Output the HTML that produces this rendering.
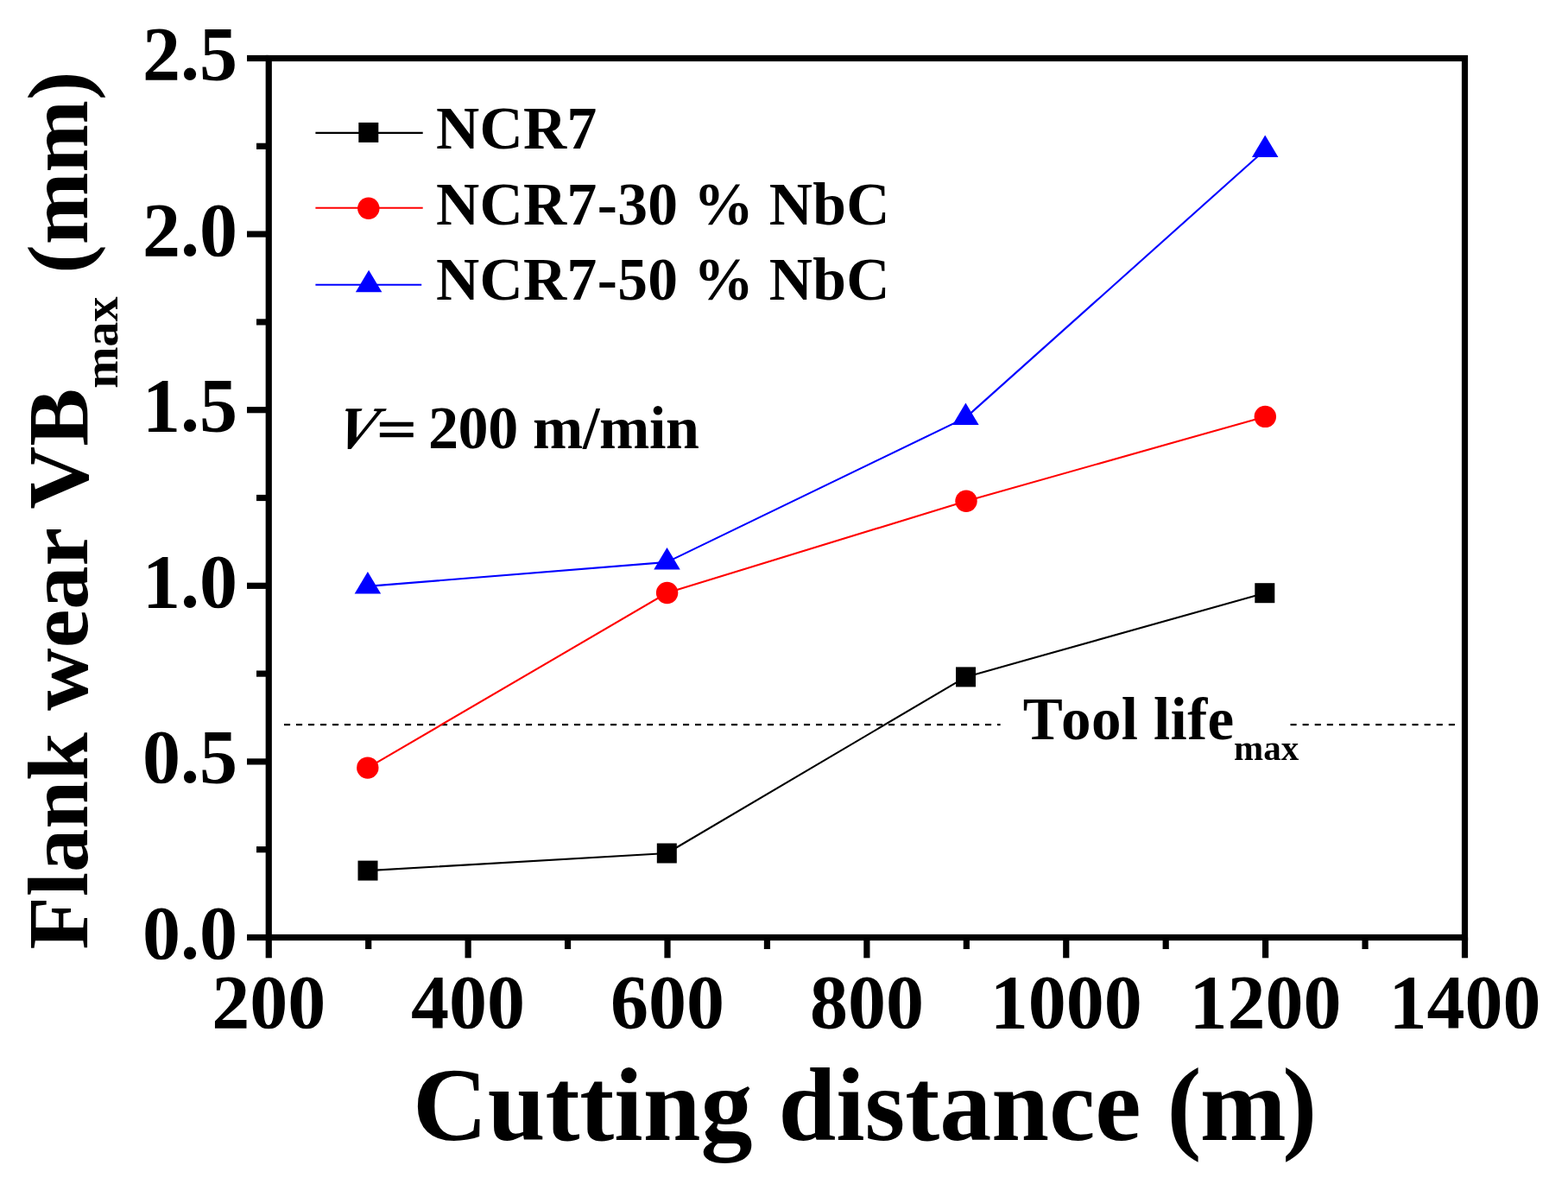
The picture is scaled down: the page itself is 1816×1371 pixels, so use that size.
<!DOCTYPE html><html><head><meta charset="utf-8"><style>html,body{margin:0;padding:0;background:#fff;}svg{display:block;}text{font-family:"Liberation Serif","Times New Roman",serif;font-weight:bold;fill:#000;}</style></head><body>
<svg width="1816" height="1371" viewBox="0 0 1816 1371">
<rect width="1816" height="1371" fill="#fff"/>
<line x1="329" y1="839.2" x2="1158.6" y2="839.2" stroke="#000" stroke-width="2.2" stroke-dasharray="7.1 6.9"/>
<line x1="1494.5" y1="839.2" x2="1685" y2="839.2" stroke="#000" stroke-width="2.2" stroke-dasharray="7.1 7.0"/>
<line x1="286.00" y1="1085.50" x2="311.25" y2="1085.50" stroke="#000" stroke-width="7.2"/>
<line x1="297.00" y1="983.70" x2="311.25" y2="983.70" stroke="#000" stroke-width="7.2"/>
<line x1="286.00" y1="881.90" x2="311.25" y2="881.90" stroke="#000" stroke-width="7.2"/>
<line x1="297.00" y1="780.10" x2="311.25" y2="780.10" stroke="#000" stroke-width="7.2"/>
<line x1="286.00" y1="678.30" x2="311.25" y2="678.30" stroke="#000" stroke-width="7.2"/>
<line x1="297.00" y1="576.50" x2="311.25" y2="576.50" stroke="#000" stroke-width="7.2"/>
<line x1="286.00" y1="474.70" x2="311.25" y2="474.70" stroke="#000" stroke-width="7.2"/>
<line x1="297.00" y1="372.90" x2="311.25" y2="372.90" stroke="#000" stroke-width="7.2"/>
<line x1="286.00" y1="271.10" x2="311.25" y2="271.10" stroke="#000" stroke-width="7.2"/>
<line x1="297.00" y1="169.30" x2="311.25" y2="169.30" stroke="#000" stroke-width="7.2"/>
<line x1="286.00" y1="67.50" x2="311.25" y2="67.50" stroke="#000" stroke-width="7.2"/>
<line x1="311.25" y1="1085.50" x2="311.25" y2="1109.30" stroke="#000" stroke-width="7.2"/>
<line x1="426.69" y1="1085.50" x2="426.69" y2="1099.00" stroke="#000" stroke-width="7.2"/>
<line x1="542.12" y1="1085.50" x2="542.12" y2="1109.30" stroke="#000" stroke-width="7.2"/>
<line x1="657.56" y1="1085.50" x2="657.56" y2="1099.00" stroke="#000" stroke-width="7.2"/>
<line x1="773.00" y1="1085.50" x2="773.00" y2="1109.30" stroke="#000" stroke-width="7.2"/>
<line x1="888.44" y1="1085.50" x2="888.44" y2="1099.00" stroke="#000" stroke-width="7.2"/>
<line x1="1003.88" y1="1085.50" x2="1003.88" y2="1109.30" stroke="#000" stroke-width="7.2"/>
<line x1="1119.31" y1="1085.50" x2="1119.31" y2="1099.00" stroke="#000" stroke-width="7.2"/>
<line x1="1234.75" y1="1085.50" x2="1234.75" y2="1109.30" stroke="#000" stroke-width="7.2"/>
<line x1="1350.19" y1="1085.50" x2="1350.19" y2="1099.00" stroke="#000" stroke-width="7.2"/>
<line x1="1465.62" y1="1085.50" x2="1465.62" y2="1109.30" stroke="#000" stroke-width="7.2"/>
<line x1="1581.06" y1="1085.50" x2="1581.06" y2="1099.00" stroke="#000" stroke-width="7.2"/>
<line x1="1696.50" y1="1085.50" x2="1696.50" y2="1109.30" stroke="#000" stroke-width="7.2"/>
<rect x="311.25" y="67.5" width="1385.25" height="1018.0" fill="none" stroke="#000" stroke-width="7.2"/>
<text x="275" y="1080.5" font-size="88" text-anchor="end" dominant-baseline="central">0.0</text>
<text x="275" y="876.9" font-size="88" text-anchor="end" dominant-baseline="central">0.5</text>
<text x="275" y="673.3" font-size="88" text-anchor="end" dominant-baseline="central">1.0</text>
<text x="275" y="469.7" font-size="88" text-anchor="end" dominant-baseline="central">1.5</text>
<text x="275" y="266.1" font-size="88" text-anchor="end" dominant-baseline="central">2.0</text>
<text x="275" y="62.5" font-size="88" text-anchor="end" dominant-baseline="central">2.5</text>
<text x="311.2" y="1189.5" font-size="88" text-anchor="middle">200</text>
<text x="542.1" y="1189.5" font-size="88" text-anchor="middle">400</text>
<text x="773.0" y="1189.5" font-size="88" text-anchor="middle">600</text>
<text x="1003.9" y="1189.5" font-size="88" text-anchor="middle">800</text>
<text x="1234.8" y="1189.5" font-size="88" text-anchor="middle">1000</text>
<text x="1465.6" y="1189.5" font-size="88" text-anchor="middle">1200</text>
<text x="1696.5" y="1189.5" font-size="88" text-anchor="middle">1400</text>
<text x="478" y="1319.5" font-size="120">Cutting distance (<tspan dx="-1.5">m</tspan><tspan dx="-4.5">)</tspan></text>
<text transform="translate(100.8,1099.4) rotate(-90)" font-size="100.5">Flank wear VB<tspan font-size="58" dx="0" dy="35">max</tspan><tspan dx="1.5" dy="-35"> (mm)</tspan></text>
<polyline points="426.00,1008.10 772.30,988.00 1118.50,783.90 1464.80,686.70" fill="none" stroke="#000" stroke-width="2.1" stroke-linejoin="round"/>
<polyline points="425.80,889.10 772.60,686.50 1119.00,580.20 1465.30,482.40" fill="none" stroke="#f00" stroke-width="2.1" stroke-linejoin="round"/>
<polyline points="425.90,678.90 772.50,650.90 1118.40,483.60 1465.20,173.50" fill="none" stroke="#00f" stroke-width="2.1" stroke-linejoin="round"/>
<rect x="414.50" y="996.60" width="23" height="23" fill="#000"/>
<rect x="760.80" y="976.50" width="23" height="23" fill="#000"/>
<rect x="1107.00" y="772.40" width="23" height="23" fill="#000"/>
<rect x="1453.30" y="675.20" width="23" height="23" fill="#000"/>
<circle cx="425.80" cy="889.10" r="12.7" fill="#f00"/>
<circle cx="772.60" cy="686.50" r="12.7" fill="#f00"/>
<circle cx="1119.00" cy="580.20" r="12.7" fill="#f00"/>
<circle cx="1465.30" cy="482.40" r="12.7" fill="#f00"/>
<polygon points="425.90,661.90 441.15,687.40 410.65,687.40" fill="#00f"/>
<polygon points="772.50,633.90 787.75,659.40 757.25,659.40" fill="#00f"/>
<polygon points="1118.40,466.60 1133.65,492.10 1103.15,492.10" fill="#00f"/>
<polygon points="1465.20,156.50 1480.45,182.00 1449.95,182.00" fill="#00f"/>
<line x1="365.4" y1="153.9" x2="489.7" y2="153.9" stroke="#000" stroke-width="2.1"/>
<line x1="365.4" y1="240.8" x2="489.7" y2="240.8" stroke="#f00" stroke-width="2.1"/>
<line x1="365.4" y1="329.7" x2="488.2" y2="329.7" stroke="#00f" stroke-width="2.1"/>
<rect x="415.30" y="141.90" width="23" height="23" fill="#000"/>
<circle cx="426.80" cy="241.30" r="12.7" fill="#f00"/>
<polygon points="427.10,312.70 442.35,338.20 411.85,338.20" fill="#00f"/>
<text x="505" y="172.4" font-size="69.5" letter-spacing="0.35">NCR7</text>
<text x="505" y="260.2" font-size="69.5" letter-spacing="0.35">NCR7-30 % NbC</text>
<text x="505" y="347.2" font-size="69.5" letter-spacing="0.35">NCR7-50 % NbC</text>
<text x="385" y="519.4" font-size="70" font-style="italic" transform="translate(385,519.4) skewX(-14) translate(-385,-519.4)">V</text>
<text x="0" y="0" font-size="70" stroke="#000" stroke-width="0.8" transform="translate(436.3,518.5) scale(1.165,0.92)">=</text>
<text x="495.9" y="519.4" font-size="70" letter-spacing="-0.35">200 m/min</text>
<text x="1184.7" y="856" font-size="69">T<tspan dx="-1.7" letter-spacing="0.4">ool life</tspan></text>
<text x="1429" y="880" font-size="41" letter-spacing="0">max</text>
</svg></body></html>
